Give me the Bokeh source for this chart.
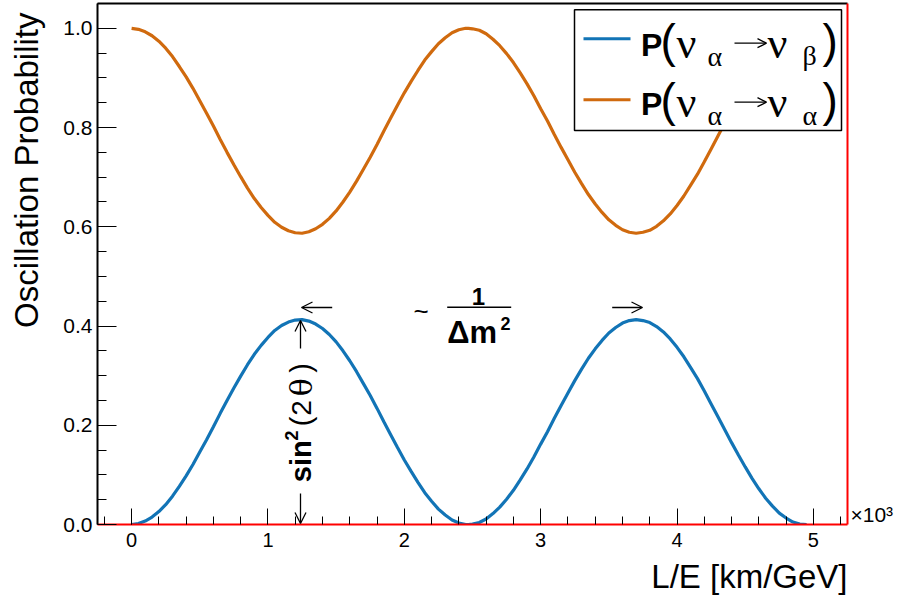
from math import pi

from bokeh.plotting import figure
from bokeh.models import (Range1d, SingleIntervalTicker, FixedTicker, NumeralTickFormatter,
                          CustomJSTickFormatter, LinearAxis, Label, Title, Arrow, OpenHead)
from bokeh.embed import file_html
from bokeh.resources import INLINE

# L/E in units of 10^3 km/GeV
le = [0.00, 0.05, 0.10, 0.15, 0.20, 0.25, 0.30, 0.35, 0.40, 0.45,
      0.50, 0.55, 0.60, 0.65, 0.70, 0.75, 0.80, 0.85, 0.90, 0.95,
      1.00, 1.05, 1.10, 1.15, 1.20, 1.25, 1.30, 1.35, 1.40, 1.45,
      1.50, 1.55, 1.60, 1.65, 1.70, 1.75, 1.80, 1.85, 1.90, 1.95,
      2.00, 2.05, 2.10, 2.15, 2.20, 2.25, 2.30, 2.35, 2.40, 2.45,
      2.47,
      2.50, 2.55, 2.60, 2.65, 2.70, 2.75, 2.80, 2.85, 2.90, 2.95,
      3.00, 3.05, 3.10, 3.15, 3.20, 3.25, 3.30, 3.35, 3.40, 3.45,
      3.50, 3.55, 3.60, 3.65, 3.70, 3.75, 3.80, 3.85, 3.90, 3.95,
      4.00, 4.05, 4.10, 4.15, 4.20, 4.25, 4.30, 4.35, 4.40, 4.45,
      4.50, 4.55, 4.60, 4.65, 4.70, 4.75, 4.80, 4.85, 4.90, 4.95]

# appearance probability P(nu_alpha -> nu_beta)
p_appear = [0.000, 0.002, 0.007, 0.015, 0.026, 0.040, 0.057, 0.077, 0.098, 0.121,
            0.146, 0.171, 0.197, 0.224, 0.250, 0.275, 0.299, 0.322, 0.343, 0.361,
            0.377, 0.391, 0.401, 0.408, 0.412, 0.413, 0.410, 0.404, 0.395, 0.383,
            0.368, 0.350, 0.330, 0.308, 0.284, 0.260, 0.234, 0.207, 0.181, 0.155,
            0.130, 0.107, 0.085, 0.064, 0.047, 0.031, 0.019, 0.009, 0.003, 0.000,
            0.000,
            0.001, 0.004, 0.011, 0.022, 0.035, 0.051, 0.069, 0.090, 0.112, 0.136,
            0.162, 0.187, 0.214, 0.240, 0.265, 0.290, 0.313, 0.335, 0.354, 0.371,
            0.386, 0.397, 0.406, 0.411, 0.413, 0.411, 0.407, 0.399, 0.388, 0.374,
            0.357, 0.338, 0.316, 0.294, 0.269, 0.243, 0.217, 0.191, 0.165, 0.140,
            0.116, 0.093, 0.072, 0.053, 0.037, 0.023, 0.013, 0.005, 0.001, 0.000]

# survival probability P(nu_alpha -> nu_alpha)
p_survive = [1.000, 0.998, 0.993, 0.985, 0.974, 0.960, 0.943, 0.923, 0.902, 0.879,
             0.854, 0.829, 0.803, 0.776, 0.750, 0.725, 0.701, 0.678, 0.657, 0.639,
             0.623, 0.609, 0.599, 0.592, 0.588, 0.587, 0.590, 0.596, 0.605, 0.617,
             0.632, 0.650, 0.670, 0.692, 0.716, 0.740, 0.766, 0.793, 0.819, 0.845,
             0.870, 0.893, 0.915, 0.936, 0.953, 0.969, 0.981, 0.991, 0.997, 1.000,
             1.000,
             0.999, 0.996, 0.989, 0.978, 0.965, 0.949, 0.931, 0.910, 0.888, 0.864,
             0.838, 0.813, 0.786, 0.760, 0.735, 0.710, 0.687, 0.665, 0.646, 0.629,
             0.614, 0.603, 0.594, 0.589, 0.587, 0.589, 0.593, 0.601, 0.612, 0.626,
             0.643, 0.662, 0.684, 0.706, 0.731, 0.757, 0.783, 0.809, 0.835, 0.860,
             0.884, 0.907, 0.928, 0.947, 0.963, 0.977, 0.987, 0.995, 0.999, 1.000]

BLUE = "#1274b6"
ORANGE = "#d06a0e"
SANS = "Liberation Sans"
SERIF = "Liberation Serif"
SERIF2 = "DejaVu Serif"

# frame geometry (page pixels) and axis ranges
FL, FR, FT, FB = 97, 847, 3, 524
X0, X1, Y0, Y1 = -0.25, 5.25, 0.0, 1.05


def dx(px):
    return X0 + (px - FL) / (FR - FL) * (X1 - X0)


def dy(py):
    return Y0 + (FB - py) / (FB - FT) * (Y1 - Y0)


p = figure(width=898, height=602, output_backend="svg", toolbar_location=None,
           x_range=Range1d(X0, X1), y_range=Range1d(Y0, Y1),
           min_border_left=FL, min_border_right=898 - FR,
           min_border_top=FT, min_border_bottom=602 - FB)
p.outline_line_color = None
p.background_fill_color = "white"
p.border_fill_color = "white"
p.xgrid.visible = False
p.ygrid.visible = False

xa = p.xaxis[0]
xa.ticker = SingleIntervalTicker(interval=1, num_minor_ticks=5)
xa.axis_line_color = "red"
xa.axis_line_width = 2
xa.major_tick_in = 16
xa.major_tick_out = 0
xa.minor_tick_in = 8
xa.minor_tick_out = 0
xa.major_tick_line_color = "black"
xa.minor_tick_line_color = "black"
xa.major_label_text_font = SANS
xa.major_label_text_font_size = "20px"
xa.major_label_text_color = "black"
xa.major_label_standoff = 8

ya = p.yaxis[0]
ya.ticker = SingleIntervalTicker(interval=0.2, num_minor_ticks=4)
ya.formatter = NumeralTickFormatter(format="0.0")
ya.axis_line_color = "black"
ya.axis_line_width = 2
ya.major_tick_in = 19
ya.major_tick_out = 0
ya.minor_tick_in = 9
ya.minor_tick_out = 0
ya.major_tick_line_color = "black"
ya.minor_tick_line_color = "black"
ya.major_label_text_font = SANS
ya.major_label_text_font_size = "21px"
ya.major_label_text_color = "black"
ya.major_label_standoff = 5
# blank spacer label: keeps the title clear of the tick labels
ya.axis_label = " "
ya.axis_label_text_font_size = "1px"
ya.axis_label_standoff = 12


def frame_edge(color, ticks=(), formatter=None):
    ax = LinearAxis(ticker=FixedTicker(ticks=list(ticks)), axis_line_color=color,
                    axis_line_width=2, major_tick_in=0, major_tick_out=0,
                    minor_tick_in=0, minor_tick_out=0,
                    major_label_standoff=3, axis_label_standoff=0,
                    major_label_text_font=SANS, major_label_text_font_size="21px",
                    major_label_text_color="black")
    if formatter is not None:
        ax.formatter = formatter
    return ax


p.add_layout(frame_edge("black"), "above")
# red right edge; its single label carries the x-axis multiplier
p.add_layout(frame_edge("red", ticks=[dy(514)],
                        formatter=CustomJSTickFormatter(code="return '\u00d710\u00b3'")), "right")

# axis titles, aligned to the far ends of the axes
p.add_layout(Title(text="Oscillation Probability", align="right", offset=9, standoff=0,
                   text_font=SANS, text_font_size="33px", text_font_style="normal",
                   text_color="black"), "left")
p.add_layout(Title(text="L/E [km/GeV]", align="right", offset=0, standoff=13,
                   text_font=SANS, text_font_size="33px", text_font_style="normal",
                   text_color="black"), "below")

# curves
p.line(le, p_survive, line_color=ORANGE, line_width=3.2)
p.line(le, p_appear, line_color=BLUE, line_width=3.2)

K = 0.28  # baseline correction, fraction of font size


def put(txt, px, py, size, font=SANS, style="normal", align="left", angle=0.0):
    if angle == 0:
        py = py - K * size
    else:
        px = px - K * size
    p.add_layout(Label(x=dx(px), y=dy(py), text=txt, text_font=font,
                       text_font_size=f"{size}px", text_font_style=style,
                       text_align=align, text_baseline="alphabetic",
                       angle=angle, text_color="black"))


def arrow(px0, py0, px1, py1, size=11):
    p.add_layout(Arrow(x_start=dx(px0), y_start=dy(py0), x_end=dx(px1), y_end=dy(py1),
                       line_width=1.3, line_color="black",
                       end=OpenHead(size=size, line_width=1.3, line_color="black")))


# amplitude marker: sin^2(2 theta)
arrow(300, 348, 300, 320)
arrow(300, 493, 300, 523)
put("sin", 309, 481.7, 29, style="bold", angle=pi / 2)
put("2", 296, 440, 18, style="bold", angle=pi / 2)
put("(", 309, 421, 29, align="center", angle=pi / 2)
put("2", 309, 407.5, 28, align="center", angle=pi / 2)
put("\u03b8", 309, 386.7, 30, font=SERIF2, align="center", angle=pi / 2)
put(")", 309, 367.5, 29, align="center", angle=pi / 2)

# period marker: ~ 1/dm^2
arrow(331.7, 307, 301, 307)
arrow(611.7, 307, 642, 307)
put("~", 413, 318, 26)
put("1", 478, 303, 24, style="bold", align="center")
p.segment(x0=dx(446.7), y0=dy(306.7), x1=dx(510.7), y1=dy(306.7),
          line_color="black", line_width=1.5)
put("\u0394m", 446.7, 341, 31, style="bold")
put("2", 500, 328, 18, style="bold")

# legend box
p.quad(left=dx(574), right=dx(841), top=dy(9.3), bottom=dy(130),
       fill_color="white", line_color="black", line_width=1.5)

rows = [(BLUE, 38.3, 53.5, "\u03b2"), (ORANGE, 99.3, 112.5, "\u03b1")]
for color, ly, b, sub in rows:
    p.line([dx(583), dx(630)], [dy(ly), dy(ly)], line_color=color, line_width=3)
    put("P", 640.5, b, 32, style="bold")
    put("(", 660, b, 46)
    put("\u03bd", 676, b + 1.5, 44, font=SERIF)
    put("\u03b1", 707, b + 10, 28, font=SERIF)
    arrow(734, b - 10.8, 766, b - 10.8, size=9)
    put("\u03bd", 767, b + 1.5, 44, font=SERIF)
    put(sub, 802, b + 9 if sub == "\u03b2" else b + 10, 28, font=SERIF)
    put(")", 822, b, 46)

open("out.html", "w").write(file_html(p, INLINE))
